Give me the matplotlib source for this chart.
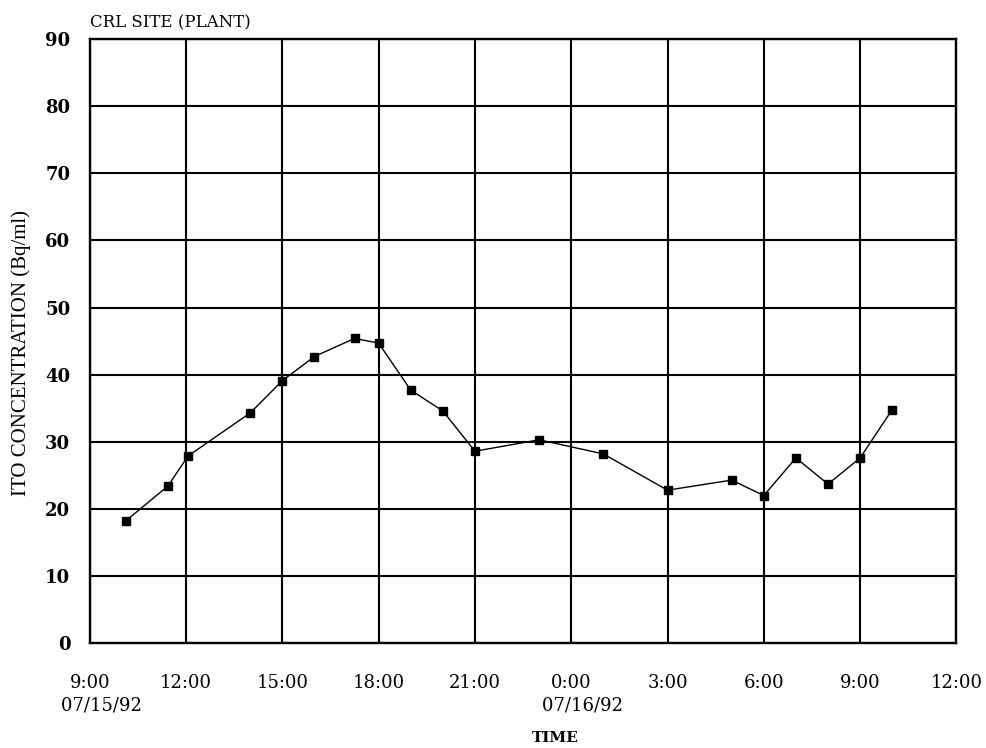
import datetime as dt

import matplotlib
matplotlib.use("Agg")
import matplotlib.pyplot as plt

# sample times (07/15/92 - 07/16/92) and ITO concentration (Bq/ml)
times = [
    "1992-07-15 10:07", "1992-07-15 11:26", "1992-07-15 12:04", "1992-07-15 14:00",
    "1992-07-15 15:00", "1992-07-15 16:00", "1992-07-15 17:15", "1992-07-15 18:00",
    "1992-07-15 19:00", "1992-07-15 20:00", "1992-07-15 21:00", "1992-07-15 23:00",
    "1992-07-16 01:00", "1992-07-16 03:00", "1992-07-16 05:00", "1992-07-16 06:00",
    "1992-07-16 07:00", "1992-07-16 08:00", "1992-07-16 09:00", "1992-07-16 10:00",
]
ito = [18.2, 23.4, 27.9, 34.3, 39.1, 42.7, 45.4, 44.7, 37.7, 34.6,
       28.6, 30.3, 28.2, 22.8, 24.3, 22.0, 27.6, 23.7, 27.6, 34.8]

# leading spaces nudge the date line right, like the original print
tick_labels = ["9:00\n    07/15/92", "12:00", "15:00", "18:00", "21:00",
               "0:00\n    07/16/92", "3:00", "6:00", "9:00", "12:00"]

t = [dt.datetime.strptime(s, "%Y-%m-%d %H:%M") for s in times]
start = dt.datetime(1992, 7, 15, 9, 0)
ticks = [start + dt.timedelta(hours=3 * i) for i in range(len(tick_labels))]

fig = plt.figure(figsize=(9.86, 7.48), dpi=100)
ax = fig.add_axes([0.091, 0.140, 0.879, 0.808])

ax.plot(t, ito, color="black", lw=1.0, marker="s", ms=6, mfc="black", mec="black")

ax.set_xlim(ticks[0], ticks[-1])
ax.set_ylim(0, 90)
ax.set_xticks(ticks)
ax.set_xticklabels(tick_labels, family="DejaVu Serif", fontsize=13, linespacing=1.35)
ax.set_yticks(range(0, 91, 10))
ax.set_yticklabels([str(v) for v in range(0, 91, 10)],
                   family="DejaVu Serif", fontsize=13, fontweight="bold")
ax.tick_params(axis="x", length=0, pad=22)
ax.tick_params(axis="y", length=0, pad=14)
ax.grid(True, color="black", lw=1.5)
for sp in ax.spines.values():
    sp.set_linewidth(1.7)

ax.set_ylabel("ITO CONCENTRATION (Bq/ml)", family="Liberation Serif", fontsize=15, va="center")
ax.yaxis.set_label_coords(-0.079, 0.48)
ax.set_xlabel("TIME", family="DejaVu Serif", fontsize=11, fontweight="bold", va="center")
ax.xaxis.set_label_coords(0.537, -0.157)
fig.text(0.091, 0.970, "CRL SITE (PLANT)", family="DejaVu Serif", fontsize=12, va="center")

fig.savefig("out.png", dpi=100)
